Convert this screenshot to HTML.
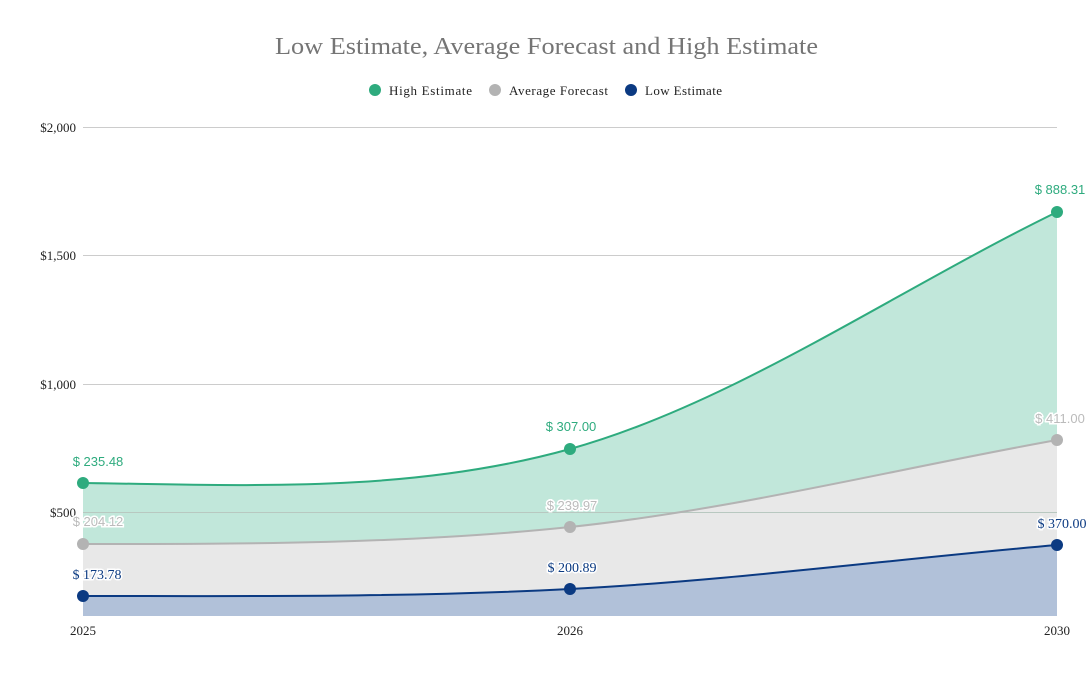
<!DOCTYPE html>
<html><head><meta charset="utf-8"><style>
body{margin:0;background:#fff;}
svg text{font-family:"Liberation Serif",serif;}
svg text.s{font-family:"Liberation Sans",sans-serif;}
</style></head><body>
<svg width="1092" height="669" xmlns="http://www.w3.org/2000/svg">
<rect width="1092" height="669" fill="#fff"/>
<text x="275" y="54" font-size="24" fill="#757575" textLength="543" lengthAdjust="spacingAndGlyphs">Low Estimate, Average Forecast and High Estimate</text>
<circle cx="375" cy="90" r="6" fill="#2eab7e"/><text x="389" y="95" font-size="13" fill="#222" textLength="83">High Estimate</text>
<circle cx="495" cy="90" r="6" fill="#b3b3b3"/><text x="509" y="95" font-size="13" fill="#222" textLength="99">Average Forecast</text>
<circle cx="631" cy="90" r="6" fill="#0b3a82"/><text x="645" y="95" font-size="13" fill="#222" textLength="77">Low Estimate</text>
<g stroke="#cccccc" stroke-width="1">
<line x1="83" y1="127.5" x2="1057" y2="127.5"/><line x1="83" y1="255.5" x2="1057" y2="255.5"/>
<line x1="83" y1="384.5" x2="1057" y2="384.5"/><line x1="83" y1="512.5" x2="1057" y2="512.5"/>
</g>
<g font-size="13" fill="#222" text-anchor="end">
<text x="76" y="132">$2,000</text><text x="76" y="260">$1,500</text><text x="76" y="389">$1,000</text><text x="76" y="517">$500</text>
</g>
<path d="M83,483 C245,485 408,494 570,449 C732,404 895,291 1057,212 L1057,616 L83,616Z" fill="#c1e7da"/>
<path d="M83,544 C245,544 408,544 570,527 C732,510 895,469 1057,440 L1057,616 L83,616Z" fill="#e8e8e8"/>
<path d="M83,596 C245,596 408,597.5 570,589 C732,580.5 895,559 1057,545 L1057,616 L83,616Z" fill="#b1c1d9"/>
<line x1="83" y1="512.5" x2="1057" y2="512.5" stroke="#b8c8c0" stroke-width="1"/>
<path d="M83,483 C245,485 408,494 570,449 C732,404 895,291 1057,212" fill="none" stroke="#2eab7e" stroke-width="2"/>
<path d="M83,544 C245,544 408,544 570,527 C732,510 895,469 1057,440" fill="none" stroke="#b3b3b3" stroke-width="2"/>
<path d="M83,596 C245,596 408,597.5 570,589 C732,580.5 895,559 1057,545" fill="none" stroke="#0b3a82" stroke-width="2"/>
<g fill="#2eab7e"><circle cx="83" cy="483" r="6"/><circle cx="570" cy="449" r="6"/><circle cx="1057" cy="212" r="6"/></g>
<g fill="#b3b3b3"><circle cx="83" cy="544" r="6"/><circle cx="570" cy="527" r="6"/><circle cx="1057" cy="440" r="6"/></g>
<g fill="#0b3a82"><circle cx="83" cy="596" r="6"/><circle cx="570" cy="589" r="6"/><circle cx="1057" cy="545" r="6"/></g>
<g font-size="13" fill="#2eab7e" text-anchor="middle">
<text class="s" x="98" y="466">$ 235.48</text><text class="s" x="571" y="431">$ 307.00</text><text class="s" x="1060" y="194">$ 888.31</text>
</g>
<g font-size="13" fill="#bbbbbb" text-anchor="middle" stroke="#fff" stroke-width="3" paint-order="stroke">
<text class="s" x="98" y="526">$ 204.12</text><text class="s" x="572" y="510">$ 239.97</text><text class="s" x="1060" y="423">$ 411.00</text>
</g>
<g font-size="14" fill="#0b3a82" text-anchor="middle" stroke="#fff" stroke-width="3" paint-order="stroke">
<text x="97" y="579">$ 173.78</text><text x="572" y="572">$ 200.89</text><text x="1062" y="528">$ 370.00</text>
</g>
<g font-size="13" fill="#222" text-anchor="middle">
<text x="83" y="635">2025</text><text x="570" y="635">2026</text><text x="1057" y="635">2030</text>
</g>
</svg>
</body></html>
